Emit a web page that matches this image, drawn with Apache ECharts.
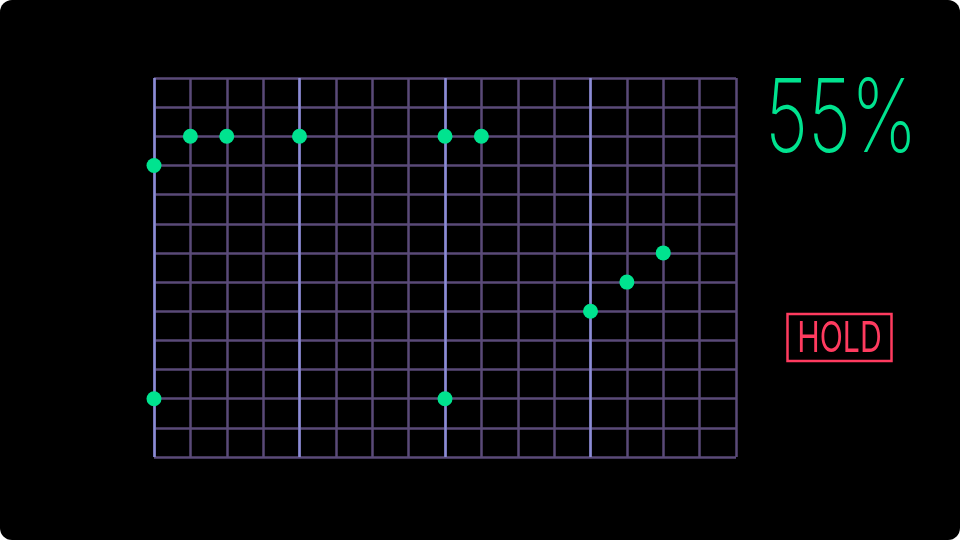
<!DOCTYPE html>
<html>
<head>
<meta charset="utf-8">
<script src="https://cdn.jsdelivr.net/npm/echarts@6/dist/echarts.min.js"></script>
<style>
html,body{margin:0;padding:0;background:#ffffff;}
#wrap{width:960px;height:540px;background:#000;border-radius:12px;overflow:hidden;}
#chart{width:960px;height:540px;}
</style>
</head>
<body>
<div id="wrap"><div id="chart"></div></div>
<script>
// step positions (columns 0..16) and levels (rows 0..13)
const stepsA = [0, 1, 2, 4, 8, 9, 12, 13, 14];
const levelsA = [10, 11, 11, 11, 11, 11, 5, 6, 7];
const stepsB = [0, 8];
const levelsB = [2, 2];
const accentSteps = [0, 4, 8, 12];
const percentText = '55%';
const statusText = 'HOLD';

const GRID = '#5a4a78';
const ACCENT = '#8a8cd6';
const GREEN = '#00e38f';
const RED = '#ff3b5f';

const ptsA = stepsA.map((s, i) => [s, levelsA[i]]);
const ptsB = stepsB.map((s, i) => [s, levelsB[i]]);

const chart = echarts.init(document.getElementById('chart'), null, {renderer: 'canvas'});
chart.setOption({
  backgroundColor: 'transparent',
  animation: false,
  grid: {left: 154, right: 224, top: 78, bottom: 83, containLabel: false},
  xAxis: {
    type: 'value', min: 0, max: 16, interval: 1,
    axisLine: {show: false}, axisTick: {show: false}, axisLabel: {show: false},
    splitLine: {show: true, lineStyle: {color: GRID, width: 2.5}}
  },
  yAxis: {
    type: 'value', min: 0, max: 13, interval: 1,
    axisLine: {show: false}, axisTick: {show: false}, axisLabel: {show: false},
    splitLine: {show: true, lineStyle: {color: GRID, width: 2.5}}
  },
  series: [
    {
      type: 'scatter', data: ptsA, symbolSize: 15, itemStyle: {color: GREEN, opacity: 1},
      z: 5,
      markLine: {
        silent: true, symbol: ['none', 'none'], label: {show: false},
        lineStyle: {color: ACCENT, width: 2.5, type: 'solid'},
        data: accentSteps.map(s => ({xAxis: s}))
      }
    },
    {type: 'scatter', data: ptsB, symbolSize: 15, itemStyle: {color: GREEN, opacity: 1}, z: 5}
  ],
  graphic: [
    {
      type: 'text', x: 765, y: 121, scaleX: 0.73,
      style: {text: percentText, fill: GREEN, fontFamily: 'Inter', fontWeight: 200, fontSize: 102,
        textAlign: 'left', textVerticalAlign: 'middle'}
    },
    {
      type: 'rect', shape: {x: 787.5, y: 314, width: 104, height: 47},
      style: {fill: 'none', stroke: RED, lineWidth: 2.5}
    },
    {
      type: 'text', x: 839.5, y: 339, scaleX: 0.72,
      style: {text: statusText, fill: RED, fontFamily: 'Inter', fontWeight: 400, fontSize: 42,
        textAlign: 'center', textVerticalAlign: 'middle'}
    }
  ]
});
</script>
</body>
</html>
